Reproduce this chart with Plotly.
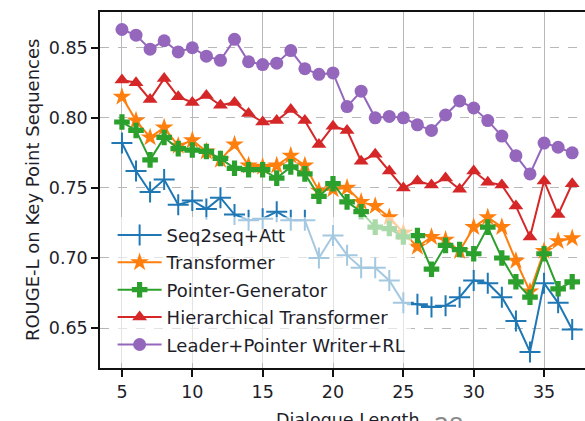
import plotly.graph_objects as go

lengths = list(range(5, 38))

seq2seq_att = [0.782, 0.762, 0.747, 0.756, 0.738, 0.741, 0.735, 0.743, 0.731, 0.727,
               0.728, 0.733, 0.727, 0.727, 0.700, 0.716, 0.702, 0.693, 0.693, 0.684,
               0.668, 0.667, 0.665, 0.666, 0.672, 0.684, 0.682, 0.672, 0.655, 0.633,
               0.682, 0.668, 0.649]
transformer = [0.815, 0.798, 0.786, 0.793, 0.780, 0.784, 0.776, 0.770, 0.781, 0.766,
               0.765, 0.766, 0.773, 0.766, 0.748, 0.749, 0.750, 0.740, 0.737, 0.729,
               0.718, 0.708, 0.715, 0.713, 0.705, 0.722, 0.729, 0.722, 0.698, 0.676,
               0.705, 0.712, 0.714]
pointer_generator = [0.797, 0.791, 0.770, 0.786, 0.778, 0.777, 0.776, 0.771, 0.764, 0.763,
                     0.763, 0.757, 0.765, 0.760, 0.744, 0.753, 0.740, 0.733, 0.722, 0.721,
                     0.715, 0.716, 0.692, 0.709, 0.706, 0.703, 0.722, 0.700, 0.683, 0.672,
                     0.703, 0.678, 0.683]
hier_transformer = [0.827, 0.825, 0.813, 0.828, 0.815, 0.811, 0.816, 0.809, 0.811, 0.803,
                    0.797, 0.798, 0.806, 0.798, 0.781, 0.794, 0.791, 0.769, 0.774, 0.762,
                    0.750, 0.755, 0.752, 0.757, 0.749, 0.762, 0.754, 0.752, 0.737, 0.715,
                    0.755, 0.731, 0.753]
leader_writer_rl = [0.863, 0.859, 0.849, 0.855, 0.847, 0.850, 0.844, 0.841, 0.856, 0.840,
                    0.838, 0.839, 0.848, 0.835, 0.831, 0.832, 0.808, 0.819, 0.800, 0.801,
                    0.800, 0.795, 0.791, 0.802, 0.812, 0.807, 0.798, 0.787, 0.773, 0.760,
                    0.782, 0.779, 0.775]

series_names = ["Seq2seq+Att", "Transformer", "Pointer-Generator",
                "Hierarchical Transformer", "Leader+Pointer Writer+RL"]
series_values = [seq2seq_att, transformer, pointer_generator, hier_transformer, leader_writer_rl]
x_ticks = [5, 10, 15, 20, 25, 30, 35]
y_ticks = [0.65, 0.70, 0.75, 0.80, 0.85]

colors = ["#1f77b4", "#ff7f0e", "#2ca02c", "#d62728", "#9467bd"]
symbols = ["cross-thin", "star", "cross", "triangle-up", "circle"]
sizes = [15, 14, 13, 13, 13]

FONT = "DejaVu Sans"
TXT = "#1e1e2a"

fig = go.Figure()
for name, vals, c, s, sz in zip(series_names, series_values, colors, symbols, sizes):
    marker = dict(symbol=s, size=sz, color=c)
    if s == "cross-thin":
        marker["line"] = dict(color=c, width=2)
    else:
        marker["line"] = dict(width=0)
    fig.add_trace(go.Scatter(
        x=lengths, y=vals, name=name, mode="lines+markers",
        line=dict(color=c, width=2), marker=marker, legendgroup=name,
    ))

fig.update_layout(
    width=585, height=421,
    margin=dict(l=100, r=0, t=12, b=53),
    plot_bgcolor="white", paper_bgcolor="white",
    font=dict(family=FONT, size=17, color=TXT),
    showlegend=True,
    legend=dict(
        x=0.026, y=0.425, xanchor="left", yanchor="top",
        bgcolor="rgba(255,255,255,0.6)", borderwidth=0,
        font=dict(family=FONT, size=18, color=TXT),
        itemwidth=44, traceorder="grouped", tracegroupgap=1,
    ),
    xaxis=dict(
        range=[3.44, 37.91], tickvals=x_ticks, ticktext=[str(v) for v in x_ticks],
        showgrid=True, gridcolor="#b8b8b8", gridwidth=1.3,
        showline=True, linecolor="#111", linewidth=1.5, mirror=True,
        ticks="outside", ticklen=7, tickwidth=1.5, tickcolor="#111",
        tickfont=dict(family=FONT, size=17.5, color=TXT), zeroline=False,
    ),
    yaxis=dict(
        range=[0.6215, 0.8755], tickvals=y_ticks, ticktext=[f"{v:.2f}" for v in y_ticks],
        showgrid=True, gridcolor="#b8b8b8", gridwidth=1.3, griddash="dash",
        showline=True, linecolor="#111", linewidth=1.5, mirror=False,
        ticks="outside", ticklen=7, tickwidth=1.5, tickcolor="#111",
        tickfont=dict(family=FONT, size=17.5, color=TXT), zeroline=False,
    ),
    annotations=[
        dict(text="Dialogue Length", xref="paper", yref="paper", x=0.512, y=-0.113,
             xanchor="center", yanchor="top", showarrow=False,
             font=dict(family=FONT, size=17.5, color=TXT)),
        dict(text="ROUGE-L on Key Point Sequences", xref="paper", yref="paper",
             x=-0.14, y=0.5, xanchor="center", yanchor="middle", textangle=-90,
             showarrow=False, font=dict(family=FONT, size=18, color=TXT)),
        dict(text="28", xref="paper", yref="paper", x=0.72, y=-0.105,
             xanchor="center", yanchor="top", showarrow=False,
             font=dict(family="Noto Sans", size=26, color="#8a8a8a")),
    ],
)

fig.write_html("out.html")
